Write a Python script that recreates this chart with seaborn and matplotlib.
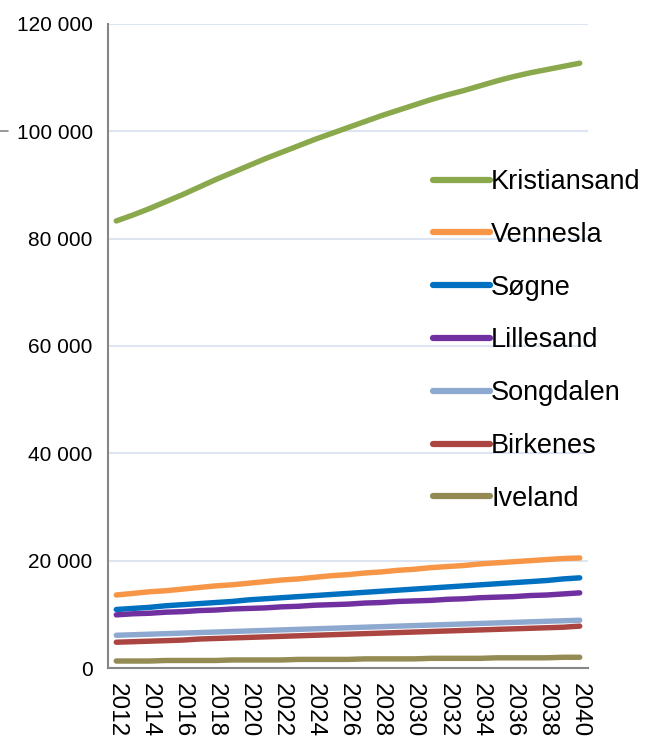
import matplotlib
matplotlib.use("Agg")
import matplotlib.pyplot as plt
import matplotlib.lines as mlines
import matplotlib.ticker as mticker
import numpy as np
import pandas as pd
import seaborn as sns

sns.set_theme(style="white")
plt.rcParams["font.family"] = ["Liberation Sans", "DejaVu Sans"]
plt.rcParams["text.color"] = "black"
plt.rcParams["xtick.labelcolor"] = "black"
plt.rcParams["ytick.labelcolor"] = "black"

years = list(range(2012, 2041))

kristiansand = [83.3, 84.4, 85.6, 86.9, 88.2, 89.6, 91.0, 92.3, 93.6, 94.9,
                96.1, 97.3, 98.5, 99.6, 100.7, 101.8, 102.9, 103.9, 104.9, 105.9,
                106.8, 107.6, 108.5, 109.4, 110.2, 110.9, 111.5, 112.1, 112.7]
vennesla = [13.6, 13.9, 14.2, 14.4, 14.7, 15.0, 15.3, 15.5, 15.8, 16.1,
            16.4, 16.6, 16.9, 17.2, 17.4, 17.7, 17.9, 18.2, 18.4, 18.7,
            18.9, 19.1, 19.4, 19.6, 19.8, 20.0, 20.2, 20.4, 20.5]
sogne = [10.9, 11.1, 11.3, 11.6, 11.8, 12.0, 12.2, 12.4, 12.7, 12.9,
         13.1, 13.3, 13.5, 13.7, 13.9, 14.1, 14.3, 14.5, 14.7, 14.9,
         15.1, 15.3, 15.5, 15.7, 15.9, 16.1, 16.3, 16.6, 16.8]
lillesand = [9.9, 10.1, 10.2, 10.4, 10.5, 10.7, 10.8, 11.0, 11.1, 11.2,
             11.4, 11.5, 11.7, 11.8, 11.9, 12.1, 12.2, 12.4, 12.5, 12.6,
             12.8, 12.9, 13.1, 13.2, 13.3, 13.5, 13.6, 13.8, 14.0]
songdalen = [6.1, 6.2, 6.3, 6.4, 6.5, 6.6, 6.7, 6.8, 6.9, 7.0,
             7.1, 7.2, 7.3, 7.4, 7.5, 7.6, 7.7, 7.8, 7.9, 8.0,
             8.1, 8.2, 8.3, 8.4, 8.5, 8.6, 8.7, 8.8, 8.9]
birkenes = [4.8, 4.9, 5.0, 5.1, 5.2, 5.4, 5.5, 5.6, 5.7, 5.8,
            5.9, 6.0, 6.1, 6.2, 6.3, 6.4, 6.5, 6.6, 6.7, 6.8,
            6.9, 7.0, 7.1, 7.2, 7.3, 7.4, 7.5, 7.6, 7.8]
iveland = [1.3, 1.3, 1.3, 1.4, 1.4, 1.4, 1.4, 1.5, 1.5, 1.5,
           1.5, 1.6, 1.6, 1.6, 1.6, 1.7, 1.7, 1.7, 1.7, 1.8,
           1.8, 1.8, 1.8, 1.9, 1.9, 1.9, 1.9, 2.0, 2.0]

names = ["Kristiansand", "Vennesla", "Søgne", "Lillesand",
         "Songdalen", "Birkenes", "Iveland"]
series = [kristiansand, vennesla, sogne, lillesand, songdalen, birkenes, iveland]
colors = ["#8AA84C", "#F79646", "#0070C0", "#7030A0",
          "#8EA9D0", "#AA4541", "#948A54"]

frames = []
for name, vals in zip(names, series):
    frames.append(pd.DataFrame({"year": years,
                                "pop": np.array(vals) * 1000,
                                "kommune": name}))
df = pd.concat(frames, ignore_index=True)

fig = plt.figure(figsize=(6.53, 7.42), dpi=100)
ax = fig.add_axes([108 / 653, 74 / 742, 480 / 653, 644 / 742])

sns.lineplot(data=df, x="year", y="pop", hue="kommune", hue_order=names,
             palette=dict(zip(names, colors)), linewidth=3.9,
             solid_capstyle="round", ax=ax, legend=False)

ax.set_xlim(2011.5, 2040.5)
ax.set_ylim(0, 120000)
ax.set_xlabel("")
ax.set_ylabel("")

grid_c = "#DCE5F1"
ax.yaxis.set_major_locator(mticker.MultipleLocator(20000))
ax.yaxis.set_major_formatter(
    mticker.FuncFormatter(lambda v, p: f"{int(v):,}".replace(",", " ")))
ax.grid(axis="y", color=grid_c, linewidth=1.5)
ax.set_axisbelow(True)

ax.xaxis.set_major_locator(mticker.FixedLocator(years[::2]))
ax.xaxis.set_minor_locator(mticker.FixedLocator(np.arange(2011.5, 2041, 1)))
ax.tick_params(axis="x", which="major", length=0, labelsize=17.5,
               labelrotation=-90, pad=11, labelcolor="black")
ax.tick_params(axis="x", which="minor", length=6, width=1.2, color="#868686")
ax.tick_params(axis="y", length=6, width=1.5, color="#868686",
               labelsize=15, pad=5, labelcolor="black")
for lab in ax.get_xticklabels():
    lab.set_va("top")

for s in ["top", "right"]:
    ax.spines[s].set_visible(False)
for s in ["left", "bottom"]:
    ax.spines[s].set_color("#868686")
    ax.spines[s].set_linewidth(1.5)

handles = [mlines.Line2D([], [], color=c, linewidth=4.5, solid_capstyle="round")
           for c in colors]
ax.legend(handles, names, loc="upper left",
          bbox_to_anchor=(433 / 653, 1 - 169 / 742),
          bbox_transform=fig.transFigure, frameon=False, fontsize=19.5,
          handlelength=2.1, handletextpad=0.05, labelspacing=0.99,
          borderpad=0, borderaxespad=0)

fig.add_artist(mlines.Line2D([0, 8 / 653], [1 - 131 / 742, 1 - 131 / 742],
                             color="#868686", linewidth=1.2))

fig.savefig("out.png", dpi=100)
